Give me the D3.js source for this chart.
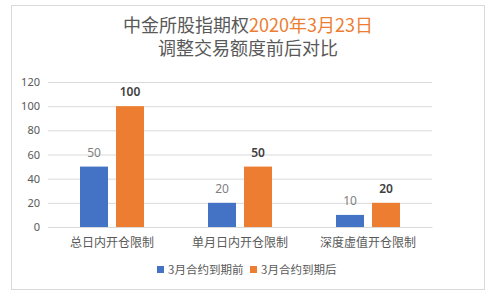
<!DOCTYPE html>
<html>
<head>
<meta charset="utf-8">
<script src="https://cdn.jsdelivr.net/npm/d3@7"></script>
<style>
  body { margin: 0; background: #fff; }
  text { font-family: "Noto Sans CJK SC", "Noto Sans", sans-serif; }
</style>
</head>
<body>
<script>
const categories = ['总日内开仓限制', '单月日内开仓限制', '深度虚值开仓限制'];
const seriesNames = ['3月合约到期前', '3月合约到期后'];
const before = [50, 20, 10];
const after = [100, 50, 20];
const yTicks = [0, 20, 40, 60, 80, 100, 120];

const colors = ['#4472C4', '#ED7D31'];
const W = 500, H = 299;

const svg = d3.select('body').append('svg')
  .attr('width', W)
  .attr('height', H);

// outer frame
svg.append('rect')
  .attr('x', 11.5).attr('y', 5.5)
  .attr('width', 473).attr('height', 284)
  .attr('fill', '#fff')
  .attr('stroke', '#d9d9d9');

// title
const t1 = svg.append('text')
  .attr('x', 248).attr('y', 32)
  .attr('text-anchor', 'middle')
  .attr('font-size', 18);
t1.append('tspan').attr('fill', '#595959').text('中金所股指期权');
t1.append('tspan').attr('fill', '#ED7D31').text('2020年3月23日');

svg.append('text')
  .attr('x', 248).attr('y', 55)
  .attr('text-anchor', 'middle')
  .attr('font-size', 18)
  .attr('fill', '#595959')
  .text('调整交易额度前后对比');

const x0 = d3.scaleBand()
  .domain(categories)
  .range([48, 432])
  .paddingInner(0.5)
  .paddingOuter(0.25);

const x1 = d3.scaleBand()
  .domain(seriesNames)
  .range([0, x0.bandwidth()])
  .paddingInner(0.222);

const y = d3.scaleLinear()
  .domain([0, 120])
  .range([227, 82]);

// gridlines
const yAxis = svg.append('g')
  .attr('transform', 'translate(48,0)')
  .call(d3.axisLeft(y).tickValues(yTicks).tickSize(-384).tickPadding(8));
yAxis.select('.domain').remove();
yAxis.selectAll('line').attr('stroke', '#d9d9d9');
yAxis.selectAll('text')
  .attr('fill', '#595959')
  .attr('font-size', 11)
  .style('font-family', '"Noto Sans", sans-serif');

// category labels
const xAxis = svg.append('g')
  .attr('transform', 'translate(0,227)')
  .call(d3.axisBottom(x0).tickSize(0).tickPadding(11));
xAxis.select('.domain').attr('stroke', '#d9d9d9');
xAxis.selectAll('text')
  .attr('fill', '#595959')
  .attr('font-size', 12)
  .style('font-family', '"Noto Sans CJK SC", sans-serif');

const rows = categories.map((c, i) => ({
  cat: c,
  vals: [
    { s: seriesNames[0], v: before[i], k: 0 },
    { s: seriesNames[1], v: after[i], k: 1 }
  ]
}));

const groups = svg.selectAll('g.grp')
  .data(rows).enter()
  .append('g')
  .attr('class', 'grp')
  .attr('transform', d => `translate(${x0(d.cat)},0)`);

groups.selectAll('rect')
  .data(d => d.vals).enter()
  .append('rect')
  .attr('x', d => x1(d.s))
  .attr('y', d => y(d.v))
  .attr('width', x1.bandwidth())
  .attr('height', d => y(0) - y(d.v))
  .attr('fill', d => colors[d.k]);

groups.selectAll('text.lbl')
  .data(d => d.vals).enter()
  .append('text')
  .attr('class', 'lbl')
  .attr('x', d => x1(d.s) + x1.bandwidth() / 2)
  .attr('y', d => y(d.v) - 10)
  .attr('text-anchor', 'middle')
  .attr('font-size', 12)
  .attr('font-weight', d => d.k === 1 ? 600 : 'normal')
  .attr('fill', d => d.k === 1 ? '#404040' : '#7f7f7f')
  .style('font-family', '"Noto Sans", sans-serif')
  .text(d => d.v);

// legend
const legX = [157, 250];
const leg = svg.selectAll('g.leg')
  .data(seriesNames).enter()
  .append('g')
  .attr('class', 'leg')
  .attr('transform', (d, i) => `translate(${legX[i]},270)`);
leg.append('rect')
  .attr('x', 0).attr('y', -4)
  .attr('width', 7).attr('height', 7)
  .attr('fill', (d, i) => colors[i]);
leg.append('text')
  .attr('x', 11).attr('y', 4)
  .attr('font-size', 11.5)
  .attr('fill', '#595959')
  .text(d => d);
</script>
</body>
</html>
